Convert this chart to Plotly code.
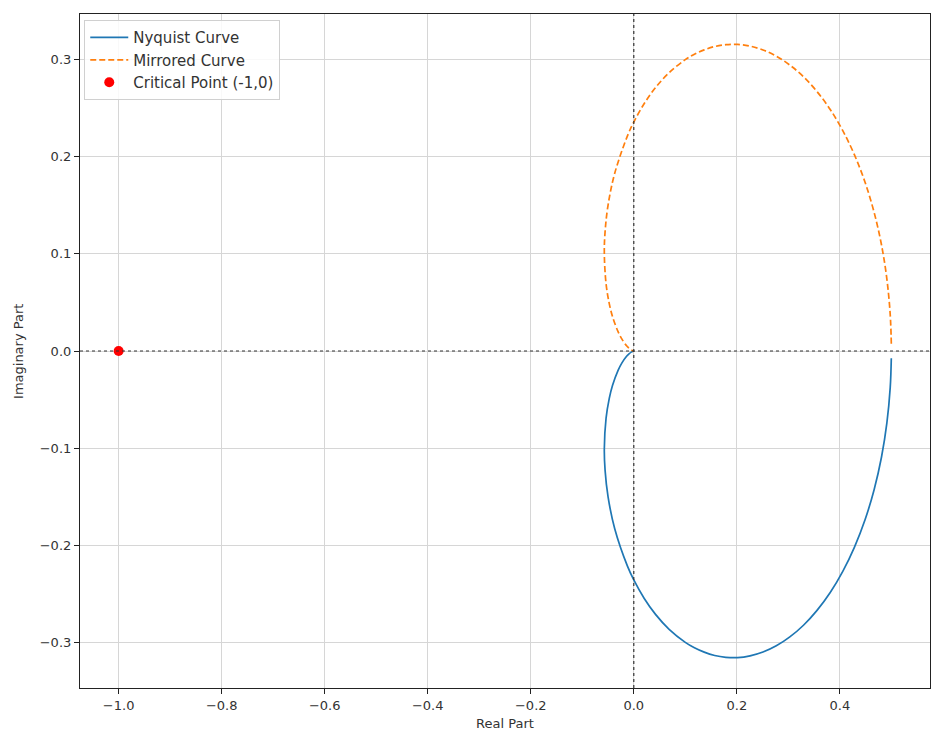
import plotly.graph_objects as go

# Nyquist curve points, omega increasing
nyq_real = [0.4999, 0.4978, 0.4913, 0.4808, 0.4665, 0.4489, 0.4284, 0.4057, 0.3813,
            0.3557, 0.3294, 0.3029, 0.2766, 0.2508, 0.2257, 0.2016, 0.1787, 0.1570,
            0.1367, 0.1177, 0.1000, 0.0686, 0.0422, 0.0203, 0.0000, -0.0123, -0.0370,
            -0.0500, -0.0557, -0.0572, -0.0538, -0.0476, -0.0412, -0.0305, -0.0230,
            -0.0140, -0.0093, -0.0043, -0.0025, -0.0004]
nyq_imag = [-0.0075, -0.0374, -0.0741, -0.1094, -0.1428, -0.1738, -0.2019, -0.2269, -0.2487,
            -0.2671, -0.2824, -0.2944, -0.3036, -0.3100, -0.3139, -0.3157, -0.3154, -0.3135,
            -0.3101, -0.3056, -0.3000, -0.2866, -0.2712, -0.2548, -0.2357, -0.2215, -0.1830,
            -0.1500, -0.1229, -0.1009, -0.0692, -0.0488, -0.0353, -0.0199, -0.0122,
            -0.0054, -0.0029, -0.0009, -0.0004, -0.0000]

# Mirrored curve (complex conjugate)
mir_real = list(nyq_real)
mir_imag = [0.0075, 0.0374, 0.0741, 0.1094, 0.1428, 0.1738, 0.2019, 0.2269, 0.2487,
            0.2671, 0.2824, 0.2944, 0.3036, 0.3100, 0.3139, 0.3157, 0.3154, 0.3135,
            0.3101, 0.3056, 0.3000, 0.2866, 0.2712, 0.2548, 0.2357, 0.2215, 0.1830,
            0.1500, 0.1229, 0.1009, 0.0692, 0.0488, 0.0353, 0.0199, 0.0122,
            0.0054, 0.0029, 0.0009, 0.0004, 0.0000]

crit_x = [-1.0]
crit_y = [0.0]

x_ticks = [-1.0, -0.8, -0.6, -0.4, -0.2, 0.0, 0.2, 0.4]
x_tick_labels = ["\u22121.0", "\u22120.8", "\u22120.6", "\u22120.4", "\u22120.2", "0.0", "0.2", "0.4"]
y_ticks = [-0.3, -0.2, -0.1, 0.0, 0.1, 0.2, 0.3]
y_tick_labels = ["\u22120.3", "\u22120.2", "\u22120.1", "0.0", "0.1", "0.2", "0.3"]

fig = go.Figure()
fig.add_trace(go.Scatter(x=nyq_real, y=nyq_imag, mode="lines", name="Nyquist Curve",
                         line=dict(color="#1f77b4", width=1.7, shape="spline")))
fig.add_trace(go.Scatter(x=mir_real, y=mir_imag, mode="lines", name="Mirrored Curve",
                         line=dict(color="#ff7f0e", width=1.7, dash="6px,3px", shape="spline")))
fig.add_trace(go.Scatter(x=crit_x, y=crit_y, mode="markers", name="Critical Point (-1,0)",
                         marker=dict(color="red", size=10)))

fig.add_shape(type="line", xref="paper", yref="y", x0=0, x1=1, y0=0, y1=0,
              line=dict(color="#333", width=1.2, dash="dot"), layer="above")
fig.add_shape(type="line", xref="x", yref="paper", x0=0, x1=0, y0=0, y1=1,
              line=dict(color="#333", width=1.2, dash="dot"), layer="above")

axis_common = dict(showgrid=True, gridcolor="#d6d6d6", gridwidth=1, zeroline=False,
                   showline=True, linecolor="#222", linewidth=1.2, mirror=True,
                   ticks="outside", ticklen=5, tickcolor="#222", automargin=False,
                   tickfont=dict(family="DejaVu Sans", size=13, color="#333"))

fig.update_layout(
    width=942, height=735,
    margin=dict(l=72, r=20, t=6, b=55),
    plot_bgcolor="white", paper_bgcolor="white",
    font=dict(family="DejaVu Sans", size=13, color="#333"),
    xaxis=dict(range=[-1.075, 0.575], tickvals=x_ticks, ticktext=x_tick_labels, **axis_common),
    yaxis=dict(range=[-0.347, 0.347], tickvals=y_ticks, ticktext=y_tick_labels, **axis_common),
    legend=dict(x=0.005, y=0.991, xanchor="left", yanchor="top", itemwidth=38,
                bgcolor="rgba(255,255,255,0.85)", bordercolor="#d0d0d0", borderwidth=1,
                font=dict(size=15, color="#333")),
    showlegend=True,
    annotations=[
        dict(text="Real Part", xref="paper", yref="paper", x=0.5, y=-0.052,
             xanchor="center", yanchor="middle", showarrow=False, font=dict(size=13, color="#333")),
        dict(text="Imaginary Part", xref="paper", yref="paper", x=-0.073, y=0.5,
             xanchor="center", yanchor="middle", textangle=-90, showarrow=False,
             font=dict(size=13, color="#333")),
    ],
)

fig.write_html("out.html")
